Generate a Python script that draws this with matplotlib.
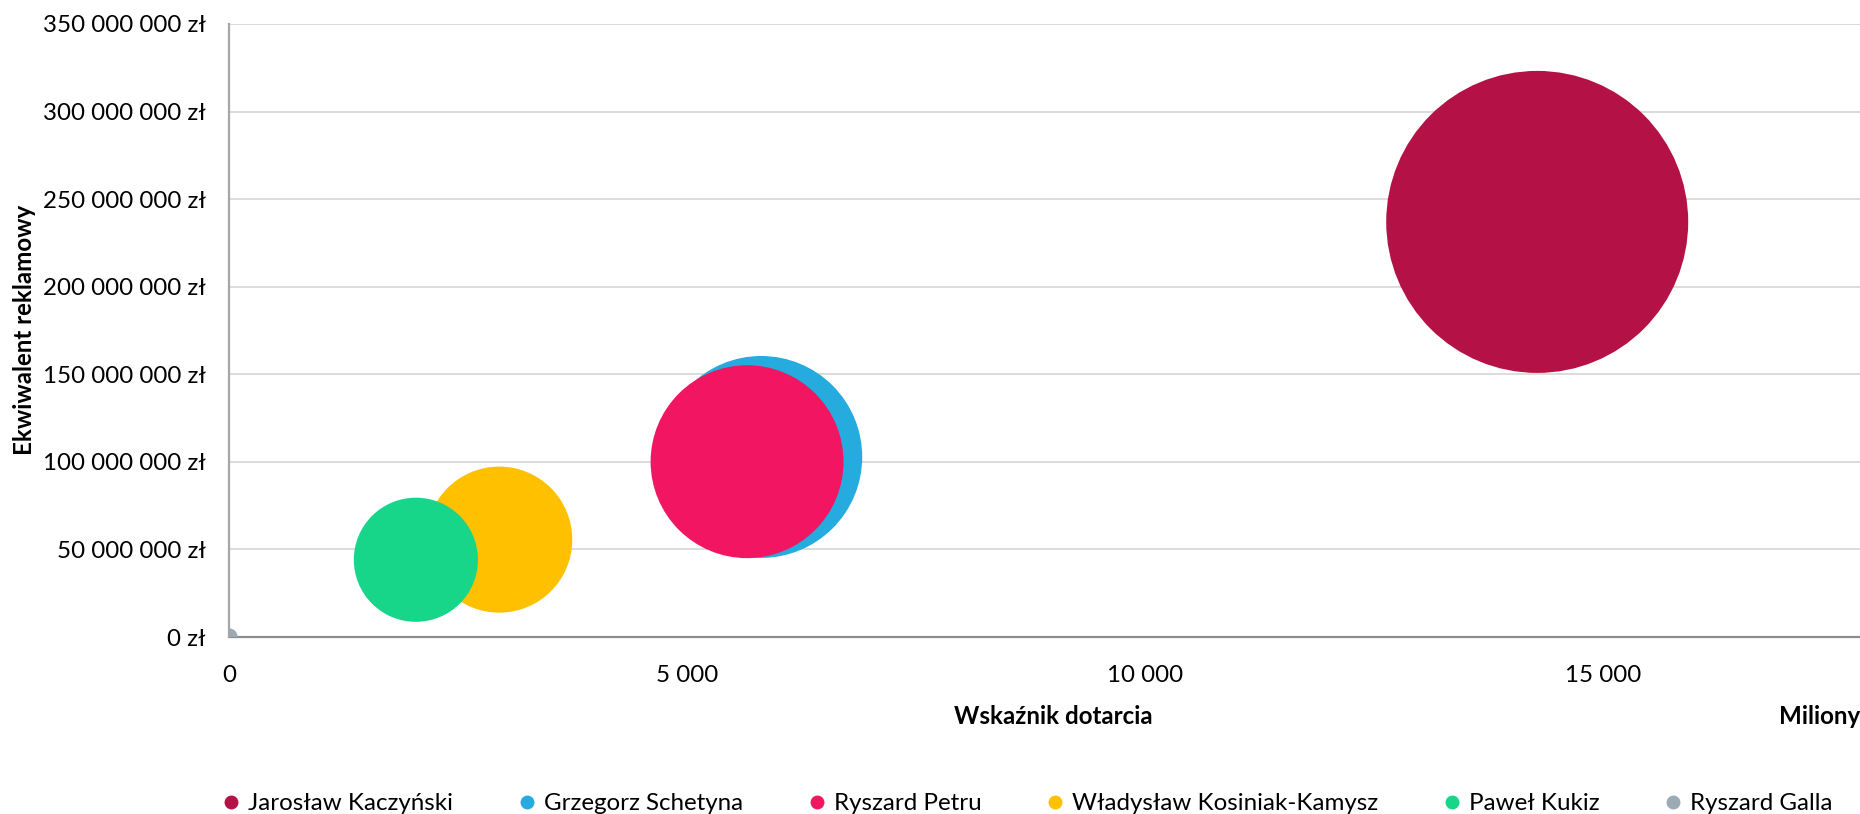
import numpy as np
import matplotlib
matplotlib.use("Agg")
import matplotlib.pyplot as plt
from matplotlib.lines import Line2D
from matplotlib.ticker import FuncFormatter, MultipleLocator

plt.rcParams['font.family'] = ['Lato', 'DejaVu Sans']

# dane
politycy = ["Jarosław Kaczyński", "Grzegorz Schetyna", "Ryszard Petru",
            "Władysław Kosiniak-Kamysz", "Paweł Kukiz", "Ryszard Galla"]
dotarcie = [14280, 5810, 5655, 2950, 2040, 5]            # miliony
ekwiwalent = [237e6, 102.8e6, 100.1e6, 55.6e6, 44.1e6, 0.3e6]  # zł
rozmiar = [100.0, 44.7, 40.8, 23.4, 16.9, 0.28]         # wielkość bąbla
kolory = ["#B41247", "#25ABDE", "#F21562", "#FFC000", "#17D68A", "#9BAAB5"]

FS = 17.4
W, H = 1860, 814
fig = plt.figure(figsize=(W / 100, H / 100), dpi=100)

x0, x1 = 229, 1878
y0, y1 = 637, 24
ax = fig.add_axes([x0 / W, 1 - y0 / H, (x1 - x0) / W, (y0 - y1) / H])

# największy bąbel ma promień ok. 151 px
r_max_pt = 151 * 0.72
s = np.array(rozmiar) / max(rozmiar) * (2 * r_max_pt) ** 2

for i in range(len(politycy)):
    ax.scatter(dotarcie[i], ekwiwalent[i], s=s[i], color=kolory[i],
               edgecolors='none', zorder=3 + i, label=politycy[i])

ax.set_xlim(0, 18000)
ax.set_ylim(0, 350e6)
ax.xaxis.set_major_locator(MultipleLocator(5000))
ax.yaxis.set_major_locator(MultipleLocator(50e6))

def fmt_pln(v, pos):
    return f"{v:,.0f}".replace(",", " ") + " zł"

def fmt_num(v, pos):
    return f"{v:,.0f}".replace(",", " ")

ax.yaxis.set_major_formatter(FuncFormatter(fmt_pln))
ax.xaxis.set_major_formatter(FuncFormatter(fmt_num))
ax.tick_params(axis='both', length=0, labelsize=FS, colors='#000000')
ax.tick_params(axis='y', pad=17)
ax.tick_params(axis='x', pad=20)

ax.grid(axis='y', color='#D9D9D9', linewidth=1.3, zorder=0)
ax.set_axisbelow(True)
for sp in ['top', 'right']:
    ax.spines[sp].set_visible(False)
ax.spines['left'].set_color('#A6A6A6')
ax.spines['left'].set_linewidth(1.6)
ax.spines['bottom'].set_color('#8C8C8C')
ax.spines['bottom'].set_linewidth(1.6)
ax.spines['left'].set_zorder(10)

fig.text(24 / W, 1 - 330 / H, "Ekwiwalent reklamowy", rotation=90,
         ha='center', va='center', fontsize=FS, fontweight='bold')
fig.text(1053 / W, 1 - 716 / H, "Wskaźnik dotarcia",
         ha='center', va='center', fontsize=FS, fontweight='bold')
fig.text(1779 / W, 1 - 716 / H, "Miliony",
         ha='left', va='center', fontsize=FS, fontweight='bold')

uchwyty = [Line2D([], [], marker='o', linestyle='none', markersize=10,
                  markerfacecolor=c, markeredgecolor='none') for c in kolory]
fig.legend(uchwyty, politycy, loc='center left', ncol=6,
           bbox_to_anchor=(224 / W, 1 - 804 / H), frameon=False,
           fontsize=FS, handlelength=0.6, handletextpad=0.4,
           columnspacing=2.75, borderpad=0, borderaxespad=0)

fig.savefig("out.png", dpi=100)
